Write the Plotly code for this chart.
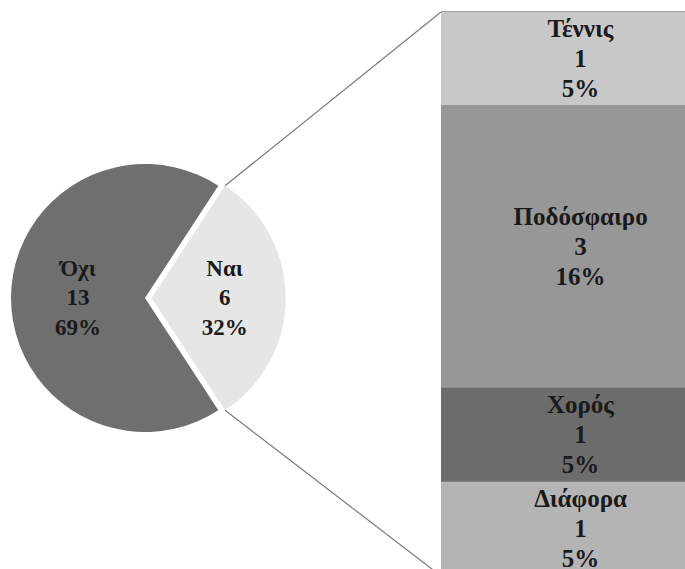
import math
import plotly.graph_objects as go

# ---- data ----
pie_labels = ["Ναι", "Όχι"]
pie_values = [6, 13]
pie_pct = ["32%", "69%"]
pie_colors = ["#e6e6e6", "#6f6f6f"]

bar_labels = ["Τέννις", "Ποδόσφαιρο", "Χορός", "Διάφορα"]
bar_values = [1, 3, 1, 1]
bar_pct = ["5%", "16%", "5%", "5%"]
bar_colors = ["#c8c8c8", "#979797", "#6c6c6c", "#b4b4b4"]

# ---- layout geometry (pixels) ----
W, H = 685, 569
cx, cy, r, pull = 145, 298, 134, 0.05
half = r * (1 + pull)
bar_left_px = 441
bar_width_px = 280       # bar runs past the right edge of the picture
bar_top_px = 12
unit_px = 94
FS_BAR = 25
FS_PIE = 23
LS = 23          # base size controlling line spacing


def lines(fs, *parts):
    return "<br>".join(f"<span style='font-size:{fs}px'>{p}</span>" for p in parts)


fig = go.Figure()

total = sum(pie_values)
span = 360 * pie_values[0] / total
rotation = 90 - span / 2

fig.add_trace(go.Pie(
    labels=pie_labels, values=pie_values,
    text=[lines(FS_PIE, l, v, p) for l, v, p in zip(pie_labels, pie_values, pie_pct)],
    texttemplate="%{text}",
    textposition="inside", insidetextorientation="horizontal",
    textfont=dict(family="Liberation Serif", size=LS, color="#1a1a1a", weight="bold"),
    marker=dict(colors=pie_colors, line=dict(width=0)),
    pull=[pull, 0], sort=False, direction="clockwise", rotation=rotation,
    domain=dict(x=[(cx - half) / W, (cx + half) / W],
                y=[1 - (cy + half) / H, 1 - (cy - half) / H]),
    showlegend=False, hoverinfo="label+value",
))

# stacked bar, bottom segment first
bar_total = sum(bar_values)
for lab, val, pct, col in reversed(list(zip(bar_labels, bar_values, bar_pct, bar_colors))):
    fig.add_trace(go.Bar(
        x=[0], y=[val], name=lab, width=1,
        text=[lines(FS_BAR, lab, val, pct)], texttemplate="%{text}",
        textposition="inside", insidetextanchor="middle", constraintext="none",
        textangle=0,
        textfont=dict(family="Liberation Serif", size=LS, color="#1a1a1a", weight="bold"),
        marker=dict(color=col, line=dict(color="#8a8a8a", width=0.8)),
        showlegend=False, hoverinfo="name+y",
    ))

y_top = bar_total + bar_top_px / unit_px
y_bot = bar_total - (H - bar_top_px) / unit_px
x_right = -0.5 + (W - bar_left_px) / bar_width_px

# connector lines from the pulled slice edges to the bar corners
pcx = cx + pull * r
a = math.radians(span / 2)
p_top = (pcx + r * math.cos(a), cy - r * math.sin(a))
p_bot = (pcx + r * math.cos(a), cy + r * math.sin(a))
bar_bottom_px = bar_top_px + bar_total * unit_px
for (px, py), (qx, qy) in [(p_top, (bar_left_px, bar_top_px)), (p_bot, (bar_left_px, bar_bottom_px))]:
    fig.add_shape(type="line", xref="paper", yref="paper",
                  x0=px / W, y0=1 - py / H, x1=qx / W, y1=1 - qy / H,
                  line=dict(color="#7a7a7a", width=1.2))

fig.update_layout(
    width=W, height=H, margin=dict(l=0, r=0, t=0, b=0),
    paper_bgcolor="white", plot_bgcolor="white",
    barmode="stack", bargap=0,
    xaxis=dict(domain=[bar_left_px / W, 1], range=[-0.5, x_right], visible=False, fixedrange=True),
    yaxis=dict(domain=[0, 1], range=[y_bot, y_top], visible=False, fixedrange=True),
)

fig.write_html("out.html")
